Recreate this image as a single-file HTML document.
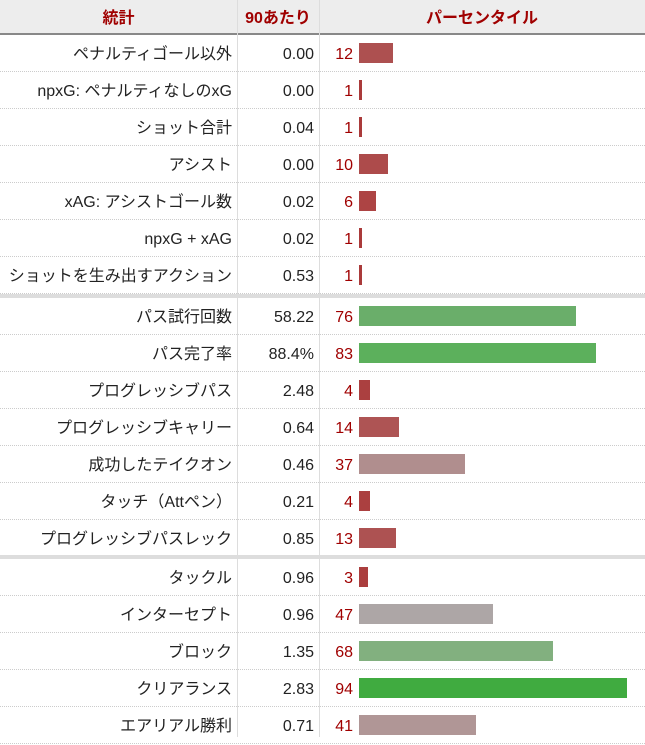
<!DOCTYPE html>
<html><head><meta charset="utf-8"><style>
body{margin:0;width:645px;height:737px;overflow:hidden;background:#fff;font-family:"Liberation Sans","Noto Sans CJK JP",sans-serif;font-size:16px;color:#222;position:relative}
.hd{position:absolute;left:0;top:0;width:645px;height:33px;background:#ededed;border-bottom:2px solid #888}
.h{position:absolute;top:1px;height:33px;line-height:35px;font-weight:bold;color:#a00000;text-align:center}
.vl{position:absolute;top:0;width:1px;height:737px;background:#ddd}
.r{position:absolute;left:0;width:645px;height:36px;border-bottom:1px dotted #ccc}
.r div{position:absolute;top:2px;height:36px;line-height:36px}
.n{left:0;width:232px;text-align:right}
.v{left:237px;width:77px;text-align:right}
.p{left:319px;width:34px;text-align:right;color:#a00000}
.r div.b{left:359px;top:8px;height:20px}
.sep{position:absolute;left:0;width:645px;height:4px;background:#ddd}
</style></head><body>
<div class="hd"></div>
<div class="h" style="left:0;width:237px">統計</div>
<div class="h" style="left:237px;width:82px">90あたり</div>
<div class="h" style="left:319px;width:326px">パーセンタイル</div>
<div class="vl" style="left:237px"></div>
<div class="vl" style="left:319px"></div>

<div class="r" style="top:35px"><div class="n">ペナルティゴール以外</div><div class="v">0.00</div><div class="p">12</div><div class="b" style="width:34px;background:#ad5050"></div></div>
<div class="r" style="top:72px"><div class="n">npxG: ペナルティなしのxG</div><div class="v">0.00</div><div class="p">1</div><div class="b" style="width:3px;background:#aa3a3a"></div></div>
<div class="r" style="top:109px"><div class="n">ショット合計</div><div class="v">0.04</div><div class="p">1</div><div class="b" style="width:3px;background:#aa3a3a"></div></div>
<div class="r" style="top:146px"><div class="n">アシスト</div><div class="v">0.00</div><div class="p">10</div><div class="b" style="width:29px;background:#ad4b4b"></div></div>
<div class="r" style="top:183px"><div class="n">xAG: アシストゴール数</div><div class="v">0.02</div><div class="p">6</div><div class="b" style="width:17px;background:#ad4444"></div></div>
<div class="r" style="top:220px"><div class="n">npxG + xAG</div><div class="v">0.02</div><div class="p">1</div><div class="b" style="width:3px;background:#aa3a3a"></div></div>
<div class="r" style="top:257px"><div class="n">ショットを生み出すアクション</div><div class="v">0.53</div><div class="p">1</div><div class="b" style="width:3px;background:#aa3a3a"></div></div>
<div class="sep" style="top:294px"></div>
<div class="r" style="top:298px"><div class="n">パス試行回数</div><div class="v">58.22</div><div class="p">76</div><div class="b" style="width:217px;background:#6aae6a"></div></div>
<div class="r" style="top:335px"><div class="n">パス完了率</div><div class="v">88.4%</div><div class="p">83</div><div class="b" style="width:237px;background:#5cb05c"></div></div>
<div class="r" style="top:372px"><div class="n">プログレッシブパス</div><div class="v">2.48</div><div class="p">4</div><div class="b" style="width:11px;background:#ab4040"></div></div>
<div class="r" style="top:409px"><div class="n">プログレッシブキャリー</div><div class="v">0.64</div><div class="p">14</div><div class="b" style="width:40px;background:#ae5454"></div></div>
<div class="r" style="top:446px"><div class="n">成功したテイクオン</div><div class="v">0.46</div><div class="p">37</div><div class="b" style="width:106px;background:#b08e8e"></div></div>
<div class="r" style="top:483px"><div class="n">タッチ（Attペン）</div><div class="v">0.21</div><div class="p">4</div><div class="b" style="width:11px;background:#ab4040"></div></div>
<div class="r" style="top:520px"><div class="n">プログレッシブパスレック</div><div class="v">0.85</div><div class="p">13</div><div class="b" style="width:37px;background:#ad5252"></div></div>
<div class="sep" style="top:555px"></div>
<div class="r" style="top:559px"><div class="n">タックル</div><div class="v">0.96</div><div class="p">3</div><div class="b" style="width:9px;background:#ab3e3e"></div></div>
<div class="r" style="top:596px"><div class="n">インターセプト</div><div class="v">0.96</div><div class="p">47</div><div class="b" style="width:134px;background:#ada6a6"></div></div>
<div class="r" style="top:633px"><div class="n">ブロック</div><div class="v">1.35</div><div class="p">68</div><div class="b" style="width:194px;background:#82b07f"></div></div>
<div class="r" style="top:670px"><div class="n">クリアランス</div><div class="v">2.83</div><div class="p">94</div><div class="b" style="width:268px;background:#40ab40"></div></div>
<div class="r" style="top:707px"><div class="n">エアリアル勝利</div><div class="v">0.71</div><div class="p">41</div><div class="b" style="width:117px;background:#b09696"></div></div>
</body></html>
